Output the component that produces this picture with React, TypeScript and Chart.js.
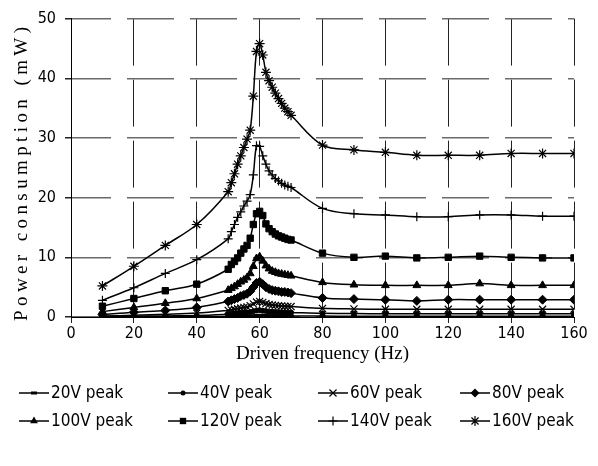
import React, { useEffect, useRef } from 'react';
import { Chart, registerables } from 'chart.js';

Chart.register(...registerables);

// ---------- data ----------
const frequencies = [10, 20, 30, 40, 50, 51, 52, 53, 54, 55, 56, 57, 58, 59, 60, 61, 62, 63, 64, 65, 66, 67, 68, 69, 70, 80, 90, 100, 110, 120, 130, 140, 150, 160];

const seriesLabels = ['20V peak', '40V peak', '60V peak', '80V peak', '100V peak', '120V peak', '140V peak', '160V peak'];

const v20 = [0.02, 0.03, 0.05, 0.07, 0.1, 0.11, 0.12, 0.13, 0.14, 0.15, 0.16, 0.18, 0.22, 0.26, 0.28, 0.26, 0.24, 0.22, 0.21, 0.2, 0.2, 0.19, 0.19, 0.18, 0.18, 0.15, 0.14, 0.14, 0.14, 0.14, 0.14, 0.14, 0.14, 0.14];
const v40 = [0.06, 0.12, 0.18, 0.25, 0.45, 0.5, 0.55, 0.6, 0.65, 0.7, 0.75, 0.85, 0.95, 1.1, 1.15, 1.05, 1.0, 0.9, 0.88, 0.85, 0.82, 0.8, 0.78, 0.77, 0.76, 0.62, 0.58, 0.55, 0.55, 0.55, 0.55, 0.55, 0.55, 0.55];
const v60 = [0.15, 0.3, 0.45, 0.65, 1.1, 1.2, 1.3, 1.4, 1.5, 1.6, 1.7, 1.9, 2.2, 2.5, 2.6, 2.45, 2.25, 2.1, 2.0, 1.95, 1.9, 1.85, 1.8, 1.78, 1.75, 1.45, 1.35, 1.3, 1.3, 1.3, 1.3, 1.3, 1.3, 1.3];
const v80 = [0.4, 0.8, 1.1, 1.6, 2.6, 2.8, 3.0, 3.2, 3.5, 3.7, 3.9, 4.3, 5.0, 5.7, 5.9, 5.5, 5.0, 4.7, 4.5, 4.4, 4.3, 4.2, 4.2, 4.1, 4.0, 3.2, 3.0, 2.9, 2.7, 2.9, 2.9, 2.9, 2.9, 2.9];
const v100 = [0.9, 1.6, 2.3, 3.1, 4.5, 4.8, 5.1, 5.5, 5.9, 6.2, 6.6, 7.3, 8.5, 9.8, 10.1, 9.4, 8.6, 8.1, 7.7, 7.5, 7.3, 7.2, 7.1, 7.0, 6.9, 5.8, 5.4, 5.3, 5.3, 5.3, 5.6, 5.3, 5.3, 5.3];
const v120 = [1.8, 3.1, 4.4, 5.5, 8.0, 8.8, 9.3, 9.9, 10.7, 11.4, 12.0, 13.2, 15.5, 17.3, 17.7, 17.0, 15.6, 14.8, 14.3, 13.9, 13.6, 13.4, 13.2, 13.0, 12.9, 10.7, 10.0, 10.2, 9.9, 10.0, 10.2, 10.0, 9.9, 9.9];
const v140 = [2.8, 4.9, 7.3, 9.6, 13.1, 14.3, 15.5, 16.7, 17.6, 18.6, 19.4, 20.5, 23.8, 28.7, 28.6, 27.0, 25.6, 24.5, 23.8, 23.2, 22.8, 22.4, 22.1, 21.9, 21.7, 18.2, 17.3, 17.1, 16.8, 16.8, 17.1, 17.1, 16.9, 16.9];
const v160 = [5.2, 8.5, 12.0, 15.5, 21.0, 22.5, 24.0, 25.6, 27.0, 28.4, 29.8, 31.3, 37.0, 44.5, 45.8, 43.9, 41.0, 39.6, 38.5, 37.5, 36.6, 35.8, 35.0, 34.4, 33.8, 28.8, 28.0, 27.6, 27.1, 27.1, 27.1, 27.4, 27.4, 27.4];

const seriesValues = [v20, v40, v60, v80, v100, v120, v140, v160];

const xTickValues = [0, 20, 40, 60, 80, 100, 120, 140, 160];
const yTickValues = [0, 10, 20, 30, 40, 50];

const xTitle = 'Driven frequency (Hz)';
const yTitle = 'Power consumption (mW)';

// ---------- styles ----------
const markerStyles = [
  { style: 'line', radius: 3, width: 3 },
  { style: 'circle', radius: 2.5, width: 1 },
  { style: 'crossRot', radius: 5, width: 1.2 },
  { style: 'rectRot', radius: 4.5, width: 1 },
  { style: 'triangle', radius: 4.5, width: 1 },
  { style: 'rect', radius: 4.5, width: 1 },
  { style: 'cross', radius: 4.5, width: 1.2 },
  { style: 'star', radius: 5, width: 1.2 },
];

const SANS = "'Liberation Sans Narrow', 'DejaVu Sans Condensed', 'Noto Sans', sans-serif";
const SERIF = "'Liberation Serif', 'DejaVu Serif', serif";

function drawMarker(ctx: CanvasRenderingContext2D, style: string, x: number, y: number, r: number, w: number) {
  ctx.save();
  ctx.fillStyle = '#000';
  ctx.strokeStyle = '#000';
  ctx.lineWidth = w;
  ctx.beginPath();
  const d = r * Math.SQRT1_2;
  switch (style) {
    case 'line':
      ctx.moveTo(x - r, y);
      ctx.lineTo(x + r, y);
      ctx.stroke();
      break;
    case 'circle':
      ctx.arc(x, y, r, 0, Math.PI * 2);
      ctx.fill();
      break;
    case 'crossRot':
      ctx.moveTo(x - d, y - d); ctx.lineTo(x + d, y + d);
      ctx.moveTo(x - d, y + d); ctx.lineTo(x + d, y - d);
      ctx.stroke();
      break;
    case 'rectRot':
      ctx.moveTo(x, y - r); ctx.lineTo(x + r, y); ctx.lineTo(x, y + r); ctx.lineTo(x - r, y);
      ctx.closePath(); ctx.fill();
      break;
    case 'triangle':
      ctx.moveTo(x, y - r);
      ctx.lineTo(x + r * 0.866, y + r * 0.5);
      ctx.lineTo(x - r * 0.866, y + r * 0.5);
      ctx.closePath(); ctx.fill();
      break;
    case 'rect':
      ctx.rect(x - d, y - d, 2 * d, 2 * d);
      ctx.fill();
      break;
    case 'cross':
      ctx.moveTo(x, y - r); ctx.lineTo(x, y + r);
      ctx.moveTo(x - r, y); ctx.lineTo(x + r, y);
      ctx.stroke();
      break;
    case 'star':
      ctx.moveTo(x, y - r); ctx.lineTo(x, y + r);
      ctx.moveTo(x - d, y - d); ctx.lineTo(x + d, y + d);
      ctx.moveTo(x - d, y + d); ctx.lineTo(x + d, y - d);
      ctx.stroke();
      break;
  }
  ctx.restore();
}

const overlayPlugin = {
  id: 'overlay',
  afterDraw(chart: any) {
    const ctx: CanvasRenderingContext2D = chart.ctx;
    const area = chart.chartArea;
    ctx.save();
    ctx.fillStyle = '#000';
    // x title
    ctx.font = `19px ${SERIF}`;
    ctx.textAlign = 'center';
    ctx.textBaseline = 'middle';
    ctx.fillText(xTitle, (area.left + area.right) / 2, 354);
    // y title (letter spaced)
    ctx.save();
    ctx.translate(22, (area.top + area.bottom) / 2 + 4);
    ctx.rotate(-Math.PI / 2);
    (ctx as any).letterSpacing = '4.4px';
    ctx.fillText(yTitle, 0, 0);
    ctx.restore();
    // legend
    const cols = [19, 168, 318, 460];
    const rows = [393, 421];
    const lineLen = 30;
    ctx.font = `17px ${SANS}`;
    ctx.textAlign = 'left';
    ctx.textBaseline = 'middle';
    seriesLabels.forEach((label, i) => {
      const x0 = cols[i % 4];
      const y = rows[Math.floor(i / 4)];
      ctx.strokeStyle = '#000';
      ctx.lineWidth = 1.5;
      ctx.beginPath();
      ctx.moveTo(x0, y);
      ctx.lineTo(x0 + lineLen, y);
      ctx.stroke();
      const m = markerStyles[i];
      drawMarker(ctx, m.style, x0 + lineLen / 2, y, m.radius, m.width);
      ctx.fillText(label, x0 + lineLen + 2, y + 1);
    });
    ctx.restore();
  },
};

export default function App() {
  const ref = useRef<HTMLCanvasElement | null>(null);
  useEffect(() => {
    if (!ref.current) return;
    const datasets = seriesLabels.map((label, i) => ({
      label,
      data: frequencies.map((f, j) => ({ x: f, y: seriesValues[i][j] })),
      borderColor: '#000',
      backgroundColor: '#000',
      borderWidth: 1.5,
      tension: 0.35,
      pointStyle: markerStyles[i].style as any,
      pointRadius: markerStyles[i].radius,
      pointBorderWidth: markerStyles[i].width,
      pointBackgroundColor: '#000',
      pointBorderColor: '#000',
      fill: false,
    }));
    const chart = new Chart(ref.current, {
      type: 'line',
      data: { datasets },
      plugins: [overlayPlugin],
      options: {
        animation: false,
        responsive: false,
        layout: { autoPadding: false, padding: { left: 0, top: 13, right: 24, bottom: 0 } },
        plugins: { legend: { display: false }, tooltip: { enabled: false } },
        scales: {
          x: {
            type: 'linear',
            min: 0,
            max: 160,
            afterFit: (s: any) => { s.height = 466 - 317; },
            afterBuildTicks: (s: any) => { s.ticks = xTickValues.map((v) => ({ value: v })); },
            ticks: { color: '#000', font: { family: SANS, size: 16 }, padding: 1, maxRotation: 0 },
            grid: { color: '#222', lineWidth: 1, tickLength: 6, tickColor: '#222' },
            border: { display: true, color: '#000', width: 1, dash: [47, 14], dashOffset: 0 },
          },
          y: {
            type: 'linear',
            min: 0,
            max: 50,
            afterFit: (s: any) => { s.width = 71; },
            afterBuildTicks: (s: any) => { s.ticks = yTickValues.map((v) => ({ value: v })); },
            ticks: { color: '#000', font: { family: SANS, size: 16 }, padding: 9 },
            grid: { color: '#6a6a6a', lineWidth: 1.5, tickLength: 6, tickColor: '#222' },
            border: { display: true, color: '#000', width: 1, dash: [47, 16], dashOffset: 8 },
          },
        },
      } as any,
    });
    return () => chart.destroy();
  }, []);
  return (
    <canvas
      ref={ref}
      width={598}
      height={466}
      style={{ position: 'absolute', left: 0, top: 0, width: 598, height: 466 }}
    />
  );
}
